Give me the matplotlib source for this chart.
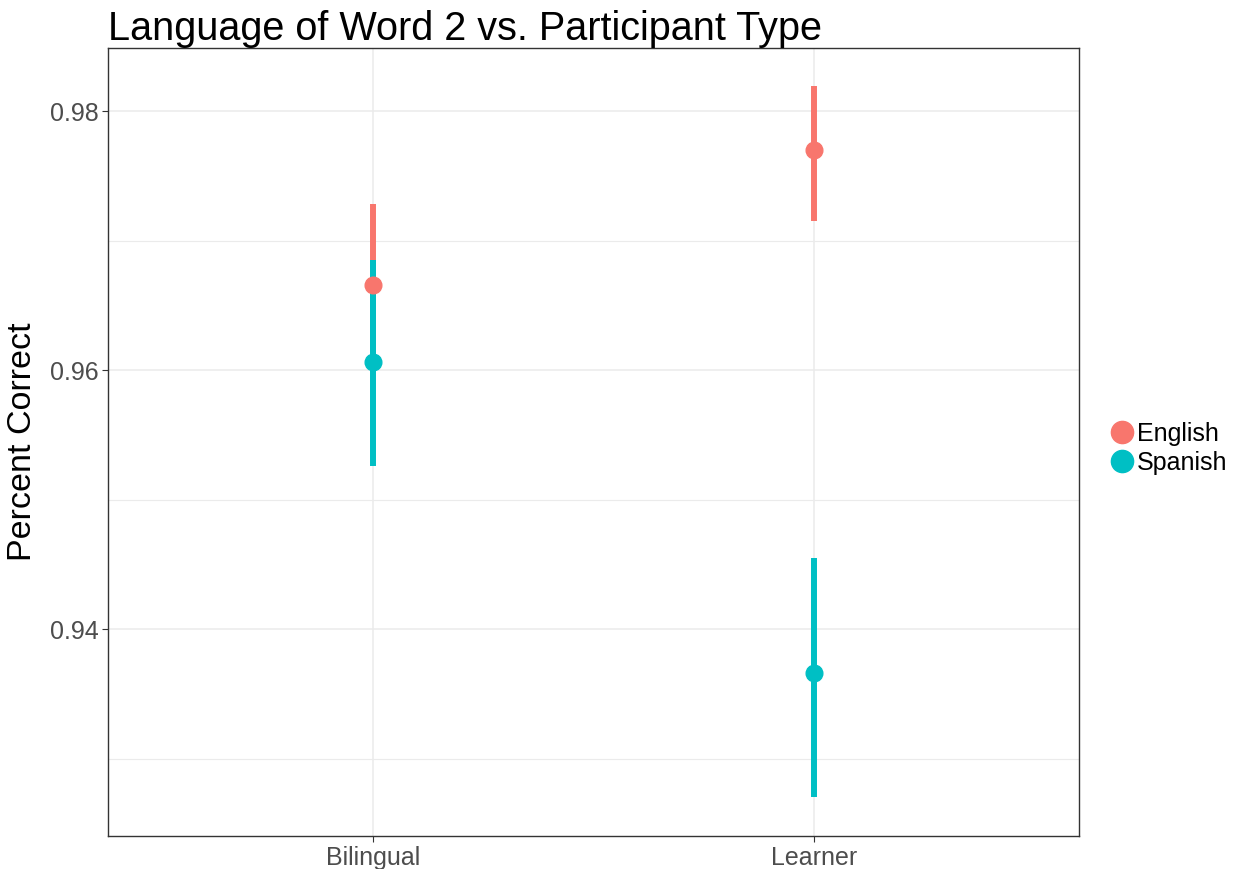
import matplotlib.pyplot as plt
from matplotlib.lines import Line2D
from matplotlib.ticker import MultipleLocator

plt.rcParams['font.family'] = ['Liberation Sans', 'DejaVu Sans']

# data
groups = ["Bilingual", "Learner"]
languages = ["English", "Spanish"]
colors = {"English": "#F8766D", "Spanish": "#00BFC4"}
means = {"English": [0.9666, 0.9770], "Spanish": [0.9606, 0.9366]}
lower = {"English": [0.9605, 0.9715], "Spanish": [0.9526, 0.9270]}
upper = {"English": [0.9728, 0.9819], "Spanish": [0.9685, 0.9455]}

fig = plt.figure(figsize=(12.44, 8.69), dpi=100)
ax = fig.add_axes([0.0868, 0.038, 0.7806, 0.9068])

xpos = list(range(1, len(groups) + 1))
for lang in languages:
    ax.vlines(xpos, lower[lang], upper[lang], color=colors[lang], lw=4.3, zorder=2)
for lang in languages:
    ax.plot(xpos, means[lang], "o", color=colors[lang], ms=12, zorder=3)

ax.set_xlim(0.4, 2.6)
ax.set_ylim(0.92402, 0.98487)
ax.set_xticks(xpos)
ax.set_xticklabels(groups)
ax.yaxis.set_major_locator(MultipleLocator(0.02))
ax.yaxis.set_minor_locator(MultipleLocator(0.01))
ax.yaxis.set_major_formatter(plt.FormatStrFormatter("%.2f"))
ax.grid(which="major", color="#ebebeb", lw=1.1, zorder=0)
ax.grid(which="minor", axis="y", color="#ebebeb", lw=0.8, zorder=0)
ax.set_axisbelow(True)
ax.tick_params(which="minor", length=0)
ax.tick_params(which="major", length=4, color="#333333", labelsize=18,
               labelcolor="#4d4d4d", width=0.8, pad=3)
for s in ax.spines.values():
    s.set_color("#333333")
    s.set_linewidth(1.0)

ax.set_ylabel("Percent Correct", fontsize=24.5, labelpad=8)
ax.set_title("Language of Word 2 vs. Participant Type", fontsize=28.5, loc="left",
             x=-0.0, pad=6)

handles = [Line2D([], [], marker="o", ls="", color=colors[l], ms=16) for l in languages]
fig.legend(handles, languages, loc="center left", bbox_to_anchor=(0.872, 0.484),
           frameon=False, fontsize=18, handletextpad=0.0, labelspacing=0.2,
           handlelength=1.2)

fig.savefig("out.png", dpi=100)
